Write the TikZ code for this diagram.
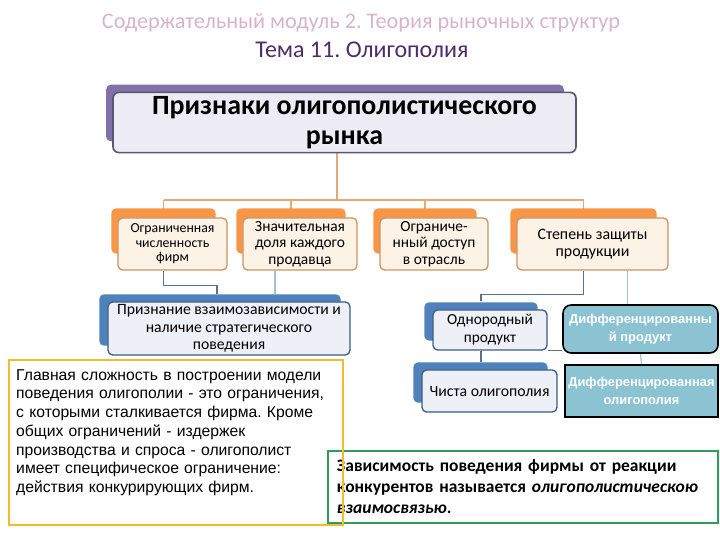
\documentclass[tikz,border=0pt]{standalone}
\usepackage{fontspec}
\setmainfont{Carlito}
\newfontfamily\arialfont{Liberation Sans}
\usepackage{tikz}
\usetikzlibrary{positioning,calc,backgrounds}
\definecolor{titlepink}{HTML}{D8B4C6}
\definecolor{titlepurple}{HTML}{4E2D6B}
\definecolor{headtab}{HTML}{8171A9}
\definecolor{headline}{HTML}{5D5672}
\definecolor{headfill}{HTML}{EDECF4}
\definecolor{ortab}{HTML}{F79646}
\definecolor{orline}{HTML}{C99463}
\definecolor{orfill}{HTML}{FDF2E6}
\definecolor{orwire}{HTML}{E3AA78}
\definecolor{bltab}{HTML}{4F81BD}
\definecolor{blline}{HTML}{3E5C82}
\definecolor{blfill}{HTML}{EDF0F7}
\definecolor{blwire}{HTML}{557394}
\definecolor{paleblwire}{HTML}{A9BCD0}
\definecolor{aquafill}{HTML}{8CC3D3}
\definecolor{noteyellow}{HTML}{F2BC2A}
\definecolor{notegreen}{HTML}{2E9D5C}
\frenchspacing

% back tab of a folder-like box: node, colour, shift of NW corner, shift of SE corner
\newcommand{\foldertab}[4]{\fill[#2, rounded corners=4pt] ([shift={#3}]#1.north west) rectangle ([shift={#4}]#1.south east);}

\begin{document}
\begin{tikzpicture}[
    x=0.03cm, y=-0.03cm,
    head/.style={rectangle, draw=headline, fill=headfill, line width=1.4pt, rounded corners=5pt, minimum width=13.89cm, minimum height=1.59cm, align=center, font=\fontsize{23.8}{25.5}\selectfont\bfseries},
    obox/.style={rectangle, draw=orline, fill=orfill, line width=1.1pt, rounded corners=4pt, minimum height=1.56cm, align=center, inner sep=1pt},
    bbox/.style={rectangle, draw=blline, fill=blfill, line width=1.1pt, rounded corners=4pt, align=center, inner sep=1pt},
    abox/.style={rectangle, draw=black, fill=aquafill, line width=1.4pt, align=center, text=white, font=\arialfont\bfseries\fontsize{11}{15.3}\selectfont, inner sep=1pt},
    oline/.style={draw=orwire, line width=1.2pt},
    bline/.style={draw=blwire, line width=1.2pt},
    pline/.style={draw=paleblwire, line width=1pt}
]
  \useasboundingbox (0,0) rectangle (720,540);

  \node[text=titlepink, font=\fontsize{19}{22}\selectfont] (modul) at (361,23) {Содержательный модуль 2. Теория рыночных структур};
  \node[text=titlepurple, font=\fontsize{20.5}{22}\selectfont] (tema) at (362,50) {Тема 11. Олигополия};

  \node[head] (main) at (344.5,122.5) {Признаки олигополистического\\рынка};

  \node[obox, minimum width=3.27cm, font=\fontsize{11.8}{12.5}\selectfont] (limit) at (172.5,244) {Ограниченная\\численность\\фирм};
  \node[obox, minimum width=3.42cm, font=\fontsize{13.2}{14.2}\selectfont] (share) at (300,244) {Значительная\\доля каждого\\продавца};
  \node[obox, minimum width=3.24cm, font=\fontsize{13.2}{14.2}\selectfont] (access) at (434,244) {Ограниче-\\нный доступ\\в отрасль};
  \node[obox, minimum width=4.53cm, font=\fontsize{13.6}{14.8}\selectfont] (protect) at (592.5,244) {Степень защиты\\продукции};

  \node[bbox, minimum width=7.26cm, minimum height=1.59cm, font=\fontsize{13.4}{14.9}\selectfont] (depend) at (229,328.5) {Признание взаимозависимости и\\наличие стратегического\\поведения};
  \node[bbox, minimum width=3.42cm, minimum height=1.2cm, font=\fontsize{13.1}{15.3}\selectfont] (homog) at (490,330) {Однородный\\продукт};
  \node[bbox, minimum width=4.05cm, minimum height=1.26cm, font=\fontsize{13.5}{15}\selectfont] (pure) at (489.5,391) {Чиста олигополия};

  \node[abox, rounded corners=7pt, minimum width=4.65cm, minimum height=1.44cm] (diffprod) at (640.5,329) {Дифференцированны\\й продукт};
  \node[abox, minimum width=4.59cm, minimum height=1.56cm] (diffolig) at (641.5,391) {Дифференцированная\\олигополия};

  % notes at the bottom
  \node[draw=notegreen, line width=1.4pt, fill=white, minimum width=11.7cm, minimum height=2.16cm, text width=11.16cm, inner xsep=0.27cm, align=left, font=\bfseries\fontsize{14.9}{17.9}\selectfont] (tie) at (523,487) {Зависимость поведения фирмы от реакции\\конкурентов называется \textit{олигополистическою}\\\textit{взаимосвязью}.};
  \node[anchor=north west, text width=9.8cm, inner sep=0pt, align=left, font=\arialfont\fontsize{13.4}{16}\selectfont] (hard) at (16,369) {Главная сложность в построении модели\\поведения олигополии - это ограничения,\\с которыми сталкивается фирма. Кроме\\общих ограничений - издержек\\производства и спроса - олигополист\\имеет специфическое ограничение:\\действия конкурирующих фирм.};
  \draw[noteyellow, line width=1.4pt] (hard.north west) ++(-7,-9) rectangle ++(334,165);

  \foreach \bx in {limit,share,access,protect}
    \coordinate (\bx-mid) at ([shift={(-9,0)}]\bx.north);
  \coordinate (bus) at (337,200);
  \coordinate (depend-mid) at ([shift={(-12,-7)}]depend.north);
  \coordinate (share-out) at ([shift={(-25,0)}]share.south);
  \coordinate (homog-mid) at ([shift={(-9,-8)}]homog.north);
  \coordinate (pure-mid) at ([shift={(-10,-7)}]pure.north);
  \coordinate (diffprod-in) at ([shift={(-13,0)}]diffprod.north);

  \begin{scope}[on background layer]
    \draw[oline] (main.south -| bus) -- (bus);
    \draw[oline] (limit-mid |- bus) -- (protect-mid |- bus);
    \foreach \bx in {limit,share,access,protect}
      \draw[oline] (\bx-mid |- bus) -- (\bx-mid);

    \draw[bline] (limit-mid |- limit.south) -- ++(0,15) -| (depend-mid);
    \draw[pline] (share-out) -- (share-out |- depend-mid);
    \draw[bline] (protect-mid |- protect.south) -- ++(0,24) -| (homog-mid);
    \draw[pline] (diffprod-in |- protect.south) -- (diffprod-in);
    \draw[bline] (homog-mid |- homog.south) -- (homog-mid |- pure-mid);
    \draw[bline] (homog.south east) -- (homog.south east -| diffprod.west);
    \draw[pline] (diffprod.south) -- (diffolig.north);

    \foldertab{main}{headtab}{(-6,-7)}{(-13,-12)}
    \foreach \bx in {limit,share,access,protect}
      {\foldertab{\bx}{ortab}{(-6,-9)}{(-12,-17)}}
    \foreach \bx in {depend,homog,pure}
      {\foldertab{\bx}{bltab}{(-8,-7)}{(-10,-10)}}
  \end{scope}
\end{tikzpicture}
\end{document}
